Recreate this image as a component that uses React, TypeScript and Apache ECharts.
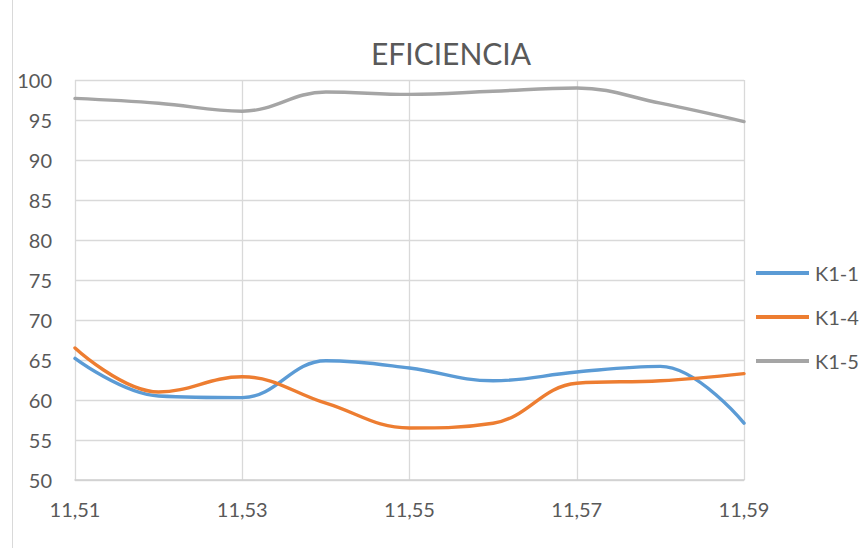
import React, { useEffect, useRef } from "react";
import * as echarts from "echarts";

const categories = ["11,51", "11,52", "11,53", "11,54", "11,55", "11,56", "11,57", "11,58", "11,59"];
const k11 = [65.2, 60.5, 60.3, 64.9, 64.0, 62.4, 63.5, 64.2, 57.1];
const k14 = [66.5, 61.0, 62.9, 59.6, 56.5, 57.1, 62.1, 62.4, 63.3];
const k15 = [97.7, 97.1, 96.1, 98.5, 98.2, 98.6, 99.0, 97.1, 94.8];
const seriesNames = ["K1-1", "K1-4", "K1-5"];
const colors = ["#5b9bd5", "#ed7d31", "#a5a5a5"];

const FONT = "Lato, 'Open Sans', sans-serif";

export default function App() {
  const ref = useRef<HTMLDivElement>(null);
  useEffect(() => {
    document.body.style.margin = "0";
    const chart = echarts.init(ref.current!, null, { renderer: "svg" });
    const data = [k11, k14, k15];
    chart.setOption({
      animation: false,
      backgroundColor: "#ffffff",
      textStyle: { fontFamily: FONT },
      title: {
        text: "EFICIENCIA",
        left: 446,
        top: 33,
        textAlign: "center",
        textStyle: { fontFamily: FONT, fontSize: 30, fontWeight: "normal", color: "#595959" },
      },
      legend: {
        orient: "vertical",
        left: 751,
        top: 258,
        itemWidth: 53,
        itemHeight: 4,
        itemGap: 24,
        icon: "rect",
        data: seriesNames,
        textStyle: { fontFamily: FONT, fontSize: 20, color: "#595959", padding: [0, 0, 0, 1] },
      },
      grid: { left: 75, right: 124, top: 80, bottom: 68, containLabel: false },
      xAxis: {
        type: "category",
        data: categories,
        boundaryGap: false,
        axisLine: { show: true, lineStyle: { color: "#d0d0d0", width: 1.5 } },
        axisTick: { show: false },
        axisLabel: { interval: 1, fontSize: 20, color: "#595959", margin: 19, fontFamily: FONT },
        splitLine: { show: true, interval: 1, lineStyle: { color: "#d9d9d9", width: 1.3 } },
      },
      yAxis: {
        type: "value",
        min: 50,
        max: 100,
        interval: 5,
        axisLine: { show: false },
        axisTick: { show: false },
        axisLabel: { fontSize: 20, color: "#595959", margin: 23, fontFamily: FONT },
        splitLine: { show: true, lineStyle: { color: "#d9d9d9", width: 1.3 } },
      },
      graphic: [
        { type: "line", shape: { x1: 12.5, y1: 0, x2: 12.5, y2: 548 }, style: { stroke: "#d9d9d9", lineWidth: 1 } },
      ],
      series: seriesNames.map((name, i) => ({
        name,
        type: "line",
        data: data[i],
        smooth: 0.4,
        showSymbol: false,
        symbol: "none",
        color: colors[i],
        lineStyle: { width: 3.4, color: colors[i], cap: "round" },
      })),
    });
    return () => chart.dispose();
  }, []);
  return <div ref={ref} style={{ width: 868, height: 548, position: "absolute", left: 0, top: 0 }} />;
}
